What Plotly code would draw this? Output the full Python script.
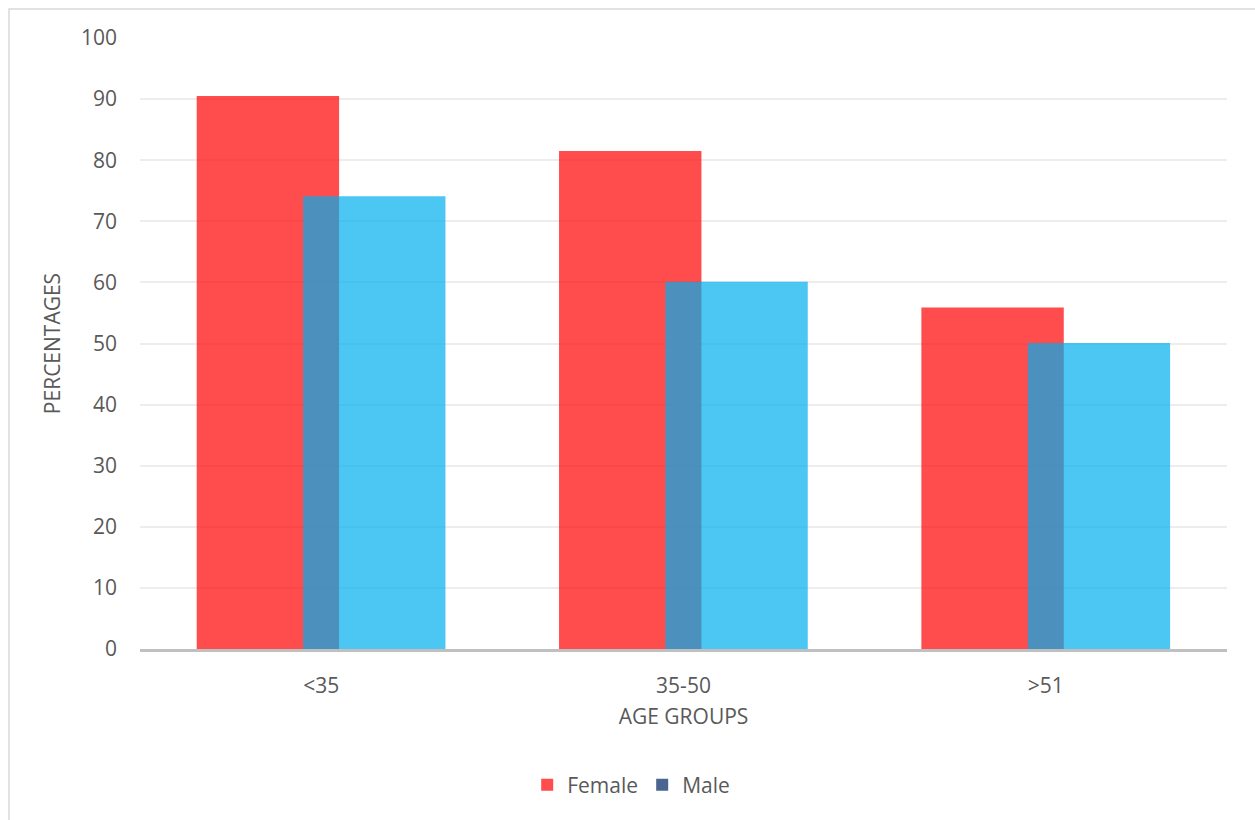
import plotly.graph_objects as go

# Share of respondents by age group and gender
age_groups = ["<35", "35-50", ">51"]
female_pct = [90.5, 81.5, 55.9]
male_pct = [74.1, 60.1, 50.1]

TEXT = "#595959"
FONT = "Open Sans"
FS = 21

fig = go.Figure()

fig.add_trace(go.Bar(
    name="Female", x=age_groups, y=female_pct,
    marker=dict(color="rgba(255,0,0,0.7)", line=dict(width=0)),
    width=0.393, offset=-0.3435,
))
fig.add_trace(go.Bar(
    name="Male", x=age_groups, y=male_pct,
    marker=dict(color="rgba(0,175,239,0.7)", line=dict(width=0)),
    width=0.393, offset=-0.05, showlegend=False,
))
# legend key for the male series
fig.add_trace(go.Bar(
    name="Male", x=[None], y=[None],
    marker=dict(color="#4A6590", line=dict(width=0)),
))

# outer chart frame
fig.add_shape(type="rect", xref="paper", yref="paper",
              x0=-0.1205, x1=1.1, y0=-0.35, y1=1.0475,
              line=dict(color="#D9D9D9", width=1.5), fillcolor="rgba(0,0,0,0)",
              layer="below")

fig.update_layout(
    width=1255, height=820,
    margin=dict(l=140, r=28, t=38, b=171),
    paper_bgcolor="white", plot_bgcolor="white",
    barmode="overlay",
    font=dict(family=FONT, size=FS, color=TEXT),
    showlegend=True,
    legend=dict(orientation="h", x=0.462, xanchor="center", y=-0.2226, yanchor="middle",
                font=dict(size=FS, color=TEXT), itemwidth=30, traceorder="normal",
                entrywidth=70, entrywidthmode="pixels"),
    xaxis=dict(
        title=dict(text="AGE GROUPS", standoff=12, font=dict(size=FS, color=TEXT)),
        showgrid=False, showline=True, linecolor="#C0C0C0", linewidth=3,
        ticks="", ticklabelstandoff=16, tickfont=dict(size=FS, color=TEXT),
        range=[-0.5, 2.5], zeroline=False,
    ),
    yaxis=dict(
        title=dict(text="PERCENTAGES", standoff=14, font=dict(size=FS, color=TEXT)),
        range=[0, 100], dtick=10, showgrid=True, gridcolor="#EDEDED", gridwidth=1.5,
        zeroline=False, showline=False, ticks="", ticklabelstandoff=22,
        tickfont=dict(size=FS, color=TEXT),
    ),
)

fig.write_html("out.html")
